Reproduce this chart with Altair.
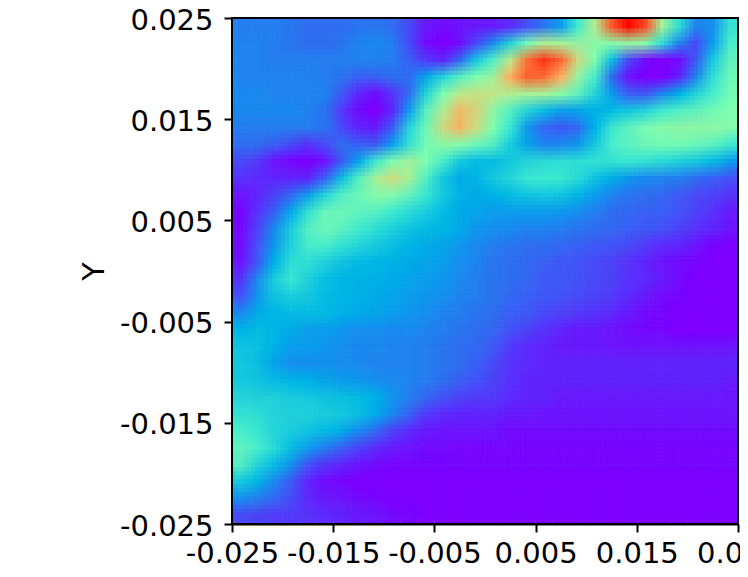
import altair as alt
import pandas as pd

GRID = [
 [17,17,17,16,15,15,15,16,16,15,10,4,2,3,4,4,6,11,16,22,38,60,88,99,90,58,35,18,20,36],
 [18,18,17,16,15,15,16,18,19,17,10,2,0,2,10,20,33,48,60,58,55,53,52,55,52,35,18,10,22,40],
 [18,18,17,17,17,17,17,18,18,17,13,8,5,14,30,42,62,85,93,86,66,50,28,10,2,0,2,12,30,45],
 [18,18,18,18,18,17,16,13,13,15,15,23,33,43,50,57,75,87,85,75,55,40,15,3,0,0,5,18,35,47],
 [19,19,18,18,18,18,12,5,2,7,15,33,50,62,64,63,60,58,58,52,45,33,22,13,12,18,25,33,40,48],
 [19,19,19,19,18,16,8,2,0,5,22,43,60,73,67,53,42,33,27,22,23,25,27,30,33,38,42,45,48,50],
 [17,17,17,17,17,16,10,5,4,12,33,47,66,74,65,50,37,21,14,12,14,25,37,44,49,52,53,53,53,52],
 [15,15,13,10,7,10,15,13,12,22,36,48,53,52,47,42,31,23,18,19,21,30,40,44,47,48,48,46,44,38],
 [10,8,3,1,0,3,12,23,38,50,57,50,40,30,27,27,30,33,34,35,35,36,36,37,36,34,32,30,27,22],
 [7,6,5,5,5,13,28,42,58,65,58,42,30,24,26,30,33,37,38,37,34,29,25,21,19,18,17,15,13,11],
 [3,5,9,14,22,33,42,47,52,52,45,37,30,25,24,25,27,29,30,29,26,22,18,16,15,14,12,10,9,7],
 [1,7,13,24,36,46,47,45,43,38,34,31,27,24,23,22,22,22,22,21,20,17,15,14,13,13,11,9,7,4],
 [1,9,19,31,42,47,44,39,35,32,29,27,26,24,21,20,19,18,18,17,16,15,14,13,12,11,9,7,5,3],
 [2,11,21,32,40,40,36,33,30,28,26,24,23,21,19,17,16,15,15,14,13,12,11,10,8,6,5,3,1,0],
 [3,12,25,35,35,32,29,27,26,25,24,23,22,20,18,16,15,14,13,12,11,10,9,7,5,3,2,1,0,0],
 [7,19,31,37,32,28,26,25,25,24,23,22,21,19,17,16,15,14,12,12,11,10,9,7,6,4,2,0,0,0],
 [11,21,29,31,30,27,26,25,24,23,22,21,20,18,17,16,14,13,12,11,10,9,8,6,4,2,1,0,0,0],
 [19,24,26,27,27,27,25,24,23,22,21,20,18,17,16,15,13,12,10,9,8,7,6,4,2,1,0,0,0,0],
 [26,27,26,24,22,22,21,20,20,19,19,18,17,16,15,14,11,9,7,5,4,4,3,2,1,1,0,0,0,0],
 [29,28,25,22,22,21,20,19,19,18,18,17,16,15,14,12,8,6,5,4,4,4,3,3,3,3,3,3,3,3],
 [30,28,23,20,20,20,20,19,18,18,18,17,16,15,13,10,7,6,5,5,5,5,5,5,5,5,5,5,5,5],
 [30,29,27,26,25,23,22,21,20,19,18,17,15,13,11,9,7,5,5,5,5,5,5,5,5,5,5,5,5,4],
 [33,32,32,31,30,29,28,27,25,21,17,14,11,9,8,8,6,5,5,4,4,4,4,4,4,4,4,4,4,3],
 [36,35,33,32,32,31,30,28,24,19,13,8,6,5,5,5,4,4,3,3,3,3,3,3,3,3,3,3,3,3],
 [40,37,33,31,29,27,24,19,14,9,6,4,3,3,3,3,2,2,2,2,2,2,2,2,2,2,2,2,2,2],
 [45,40,34,27,22,17,13,9,6,4,3,2,2,1,1,1,1,1,1,1,1,1,1,1,1,1,1,1,1,1],
 [42,33,27,20,11,7,5,3,2,1,1,1,1,1,1,1,1,1,1,1,1,1,1,1,1,1,1,1,1,1],
 [30,26,19,12,5,2,1,0,0,0,0,0,0,0,0,0,0,0,0,0,0,0,0,0,0,0,0,0,0,0],
 [20,17,14,10,6,4,3,2,1,0,0,0,0,0,0,0,0,0,0,0,0,0,0,0,0,0,0,0,0,0],
 [10,9,8,8,7,6,5,4,3,2,1,0,0,0,0,0,0,0,0,0,0,0,0,0,0,0,0,0,0,0],
]
TICKS = [-0.025, -0.015, -0.005, 0.005, 0.015, 0.025]
RAINBOW = ["#8000ff", "#4062fa", "#00b5eb", "#40ecd4", "#80ffb4", "#c0ec8e", "#ffb462", "#ff6232", "#ff0000"]
SOFTEN = [-0.375, -0.125, 0.125, 0.375]
LOW, HIGH = -0.025, 0.025
LABEL = "(datum.value<0?'-':'')+format(abs(datum.value),'.3f')"

n = len(GRID)
step = (HIGH - LOW) / n


def cells(dx, dy):
    records = []
    for r, row in enumerate(GRID):
        for c, v in enumerate(row):
            records.append({"x": LOW + (c + dx) * step, "x2": LOW + (c + 1 + dx) * step,
                            "y": HIGH - (r + dy) * step, "y2": HIGH - (r + 1 + dy) * step, "v": v})
    return pd.DataFrame(records)


color_scale = alt.Scale(domain=[0, 100], range=RAINBOW, interpolate="rgb")
x_scale = alt.Scale(domain=[LOW, HIGH], nice=False, zero=False)
y_scale = alt.Scale(domain=[LOW, HIGH], nice=False, zero=False)
x_axis = alt.Axis(values=TICKS, title=None, labelExpr=LABEL, grid=False, tickSize=8,
                  tickWidth=2, tickColor="black", domainWidth=2, domainColor="black",
                  labelFont="DejaVu Sans", labelFontSize=29, labelColor="black",
                  labelPadding=7, labelFlush=False, labelOverlap=False)
y_axis = alt.Axis(values=TICKS, title="Y", labelExpr=LABEL, grid=False, tickSize=8,
                  tickWidth=2, tickColor="black", domainWidth=2, domainColor="black",
                  labelFont="DejaVu Sans", labelFontSize=29, labelColor="black",
                  labelPadding=11, labelOffset=2, labelFlush=False, labelOverlap=False,
                  titleFont="DejaVu Sans", titleFontSize=30, titleFontWeight="normal",
                  titleColor="black", titleX=-123, titleY=253)


def panel(data, **mark):
    return alt.Chart(data).mark_rect(clip=True, **mark).encode(
        x=alt.X("x:Q", scale=x_scale, axis=x_axis),
        x2="x2:Q",
        y=alt.Y("y:Q", scale=y_scale, axis=y_axis),
        y2="y2:Q",
        color=alt.Color("v:Q", scale=color_scale, legend=None),
    )


layers = [panel(cells(0, 0), strokeWidth=0)]
k = 0
for dy in SOFTEN:
    for dx in SOFTEN:
        k += 1
        layers.append(panel(cells(dx, dy), opacity=1 / k, strokeWidth=0))

frame = alt.Chart(pd.DataFrame({"x": [LOW], "x2": [HIGH], "y": [LOW], "y2": [HIGH]})).mark_rect(
    fillOpacity=0, stroke="black", strokeWidth=2
).encode(
    x=alt.X("x:Q", scale=x_scale, axis=x_axis), x2="x2:Q",
    y=alt.Y("y:Q", scale=y_scale, axis=y_axis), y2="y2:Q",
)

chart = alt.layer(*layers, frame).properties(
    width=506, height=506,
    padding={"left": 224, "top": 10, "right": 2, "bottom": 40},
    autosize=alt.AutoSizeParams(type="none"),
).configure_view(strokeWidth=0)

chart.save("out.html", embed_options={"renderer": "svg", "actions": False})
